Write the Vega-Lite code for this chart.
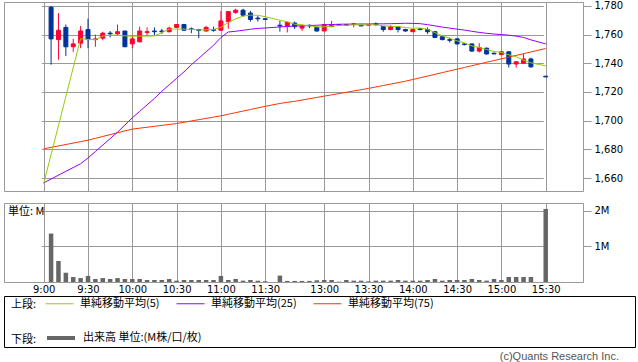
{
  "$schema": "https://vega.github.io/schema/vega-lite/v6.json",
  "background": "white",
  "padding": {"left": 3, "top": 0, "right": 0, "bottom": 0},
  "config": {
    "view": {"stroke": "#999999", "strokeWidth": 1},
    "axis": {"gridColor": "#999999", "gridWidth": 1, "gridOpacity": 1, "tickColor": "#999999", "labelFont": "DejaVu Sans", "labelFontSize": 10, "labelColor": "#000000", "domain": false, "labelOverlap": false, "labelFlush": false},
    "legend": {"padding": 0}
  },
  "resolve": {"scale": {"color": "independent"}},
  "datasets": {
    "bars": [
      {"m": 540, "ma5": 1656.2, "ma25": 1656.7, "ma75": 1680.4},
      {"m": 545, "o": 1779, "h": 1780, "l": 1739, "c": 1757, "v": 1360000},
      {"m": 550, "o": 1756.5, "h": 1775, "l": 1742.5, "c": 1763, "v": 590000},
      {"m": 555, "o": 1765, "h": 1767, "l": 1745, "c": 1751.5, "v": 260000},
      {"m": 560, "o": 1751.5, "h": 1757, "l": 1748, "c": 1753.5, "v": 140000},
      {"m": 565, "o": 1754, "h": 1766, "l": 1750.5, "c": 1762.5, "v": 110000, "ma5": 1757.2, "ma25": 1670, "ma75": 1685.4},
      {"m": 570, "o": 1763.5, "h": 1771, "l": 1750.5, "c": 1756.5, "v": 170000, "ma5": 1756.5, "ma25": 1674, "ma75": 1686.4},
      {"m": 575, "o": 1756.5, "h": 1760, "l": 1751.5, "c": 1757, "v": 85000, "ma5": 1756.5, "ma25": 1678.5, "ma75": 1687.7},
      {"m": 580, "o": 1757.5, "h": 1762, "l": 1756, "c": 1761, "v": 110000, "ma5": 1758.9, "ma25": 1683, "ma75": 1689},
      {"m": 585, "o": 1761, "h": 1762.5, "l": 1758, "c": 1760.5, "v": 85000, "ma5": 1759.6, "ma25": 1687.5, "ma75": 1690.3},
      {"m": 590, "o": 1760.5, "h": 1767, "l": 1759.5, "c": 1762, "v": 110000, "ma5": 1759.6, "ma25": 1692, "ma75": 1691.6},
      {"m": 595, "o": 1762.5, "h": 1762.5, "l": 1751.5, "c": 1751.5, "v": 85000, "ma5": 1759.1, "ma25": 1697, "ma75": 1692.9},
      {"m": 600, "o": 1753.5, "h": 1759.5, "l": 1750.5, "c": 1757, "v": 85000, "ma5": 1758.9, "ma25": 1702, "ma75": 1694.1},
      {"m": 605, "o": 1755, "h": 1765.5, "l": 1754.5, "c": 1762.5, "v": 85000, "ma5": 1758.9, "ma25": 1706.5, "ma75": 1694.8},
      {"m": 610, "o": 1761.5, "h": 1765, "l": 1759.5, "c": 1762, "v": 56000, "ma5": 1758.9, "ma25": 1711, "ma75": 1695.4},
      {"m": 615, "o": 1762.5, "h": 1765, "l": 1759.5, "c": 1762, "v": 56000, "ma5": 1759.1, "ma25": 1715.5, "ma75": 1696.1},
      {"m": 620, "o": 1762.5, "h": 1764, "l": 1760.5, "c": 1762, "v": 56000, "ma5": 1761.4, "ma25": 1720.5, "ma75": 1696.7},
      {"m": 625, "o": 1762, "h": 1765.5, "l": 1761.5, "c": 1764.5, "v": 85000, "ma5": 1763.8, "ma25": 1725, "ma75": 1697.4},
      {"m": 630, "o": 1765, "h": 1767, "l": 1764.5, "c": 1767, "v": 38000, "ma5": 1763.8, "ma25": 1729.5, "ma75": 1698},
      {"m": 635, "o": 1767, "h": 1767.5, "l": 1763, "c": 1763, "v": 56000, "ma5": 1763.8, "ma25": 1734, "ma75": 1698.9},
      {"m": 640, "o": 1764, "h": 1765, "l": 1761, "c": 1763.5, "v": 56000, "ma5": 1763.6, "ma25": 1739, "ma75": 1699.8},
      {"m": 645, "o": 1763.5, "h": 1764, "l": 1757.5, "c": 1763, "v": 56000, "ma5": 1763.3, "ma25": 1743.5, "ma75": 1700.7},
      {"m": 650, "o": 1762.5, "h": 1766, "l": 1762, "c": 1765, "v": 56000, "ma5": 1763.3, "ma25": 1748, "ma75": 1701.6},
      {"m": 655, "o": 1763.5, "h": 1765.5, "l": 1762, "c": 1763, "v": 56000, "ma5": 1763.6, "ma25": 1752.5, "ma75": 1702.5},
      {"m": 660, "o": 1763, "h": 1776.5, "l": 1763, "c": 1769.5, "v": 170000, "ma5": 1765, "ma25": 1758, "ma75": 1703.4},
      {"m": 665, "o": 1769, "h": 1776.5, "l": 1764, "c": 1776, "v": 56000, "ma5": 1768.5, "ma25": 1761.8, "ma75": 1704.5},
      {"m": 670, "o": 1775.5, "h": 1778, "l": 1774.5, "c": 1777, "v": 85000, "ma5": 1771, "ma25": 1762.3, "ma75": 1705.6},
      {"m": 675, "o": 1777, "h": 1778, "l": 1772.5, "c": 1773.5, "v": 38000, "ma5": 1772.8, "ma25": 1763, "ma75": 1706.7},
      {"m": 680, "o": 1775, "h": 1776.5, "l": 1769, "c": 1770.5, "v": 56000, "ma5": 1773.6, "ma25": 1763.7, "ma75": 1707.8},
      {"m": 685, "o": 1771.5, "h": 1773, "l": 1769, "c": 1771, "v": 38000, "ma5": 1773.4, "ma25": 1764.3, "ma75": 1708.9},
      {"m": 690, "o": 1771, "h": 1771, "l": 1770.5, "c": 1770.5, "v": 20000, "ma5": 1772.5, "ma25": 1764.6, "ma75": 1710},
      {"m": 750, "o": 1766.5, "h": 1769.5, "l": 1762, "c": 1766, "v": 180000, "ma5": 1770, "ma25": 1765.3, "ma75": 1712},
      {"m": 755, "o": 1766, "h": 1769, "l": 1761.5, "c": 1768.5, "v": 30000, "ma5": 1768.9, "ma25": 1765.6, "ma75": 1712.8},
      {"m": 760, "o": 1768, "h": 1769, "l": 1764, "c": 1765.5, "v": 30000, "ma5": 1767.2, "ma25": 1766, "ma75": 1713.5},
      {"m": 765, "o": 1764.5, "h": 1767, "l": 1762.5, "c": 1766, "v": 30000, "ma5": 1766.8, "ma25": 1766.1, "ma75": 1714.4},
      {"m": 770, "o": 1766.5, "h": 1767, "l": 1764.5, "c": 1766, "v": 30000, "ma5": 1766.1, "ma25": 1766.3, "ma75": 1715.3},
      {"m": 775, "o": 1765, "h": 1765.5, "l": 1762, "c": 1762.5, "v": 47000, "ma5": 1765.4, "ma25": 1766.5, "ma75": 1716.2},
      {"m": 780, "o": 1762.5, "h": 1767.5, "l": 1762.5, "c": 1767, "v": 56000, "ma5": 1765.4, "ma25": 1766.8, "ma75": 1717.1},
      {"m": 785, "o": 1765.5, "h": 1769.5, "l": 1765.5, "c": 1767, "v": 56000, "ma5": 1765.8, "ma25": 1767, "ma75": 1718},
      {"m": 790, "o": 1767, "h": 1767, "l": 1766, "c": 1766.5, "v": 10000, "ma5": 1766.3, "ma25": 1767.2, "ma75": 1718.9},
      {"m": 795, "o": 1767, "h": 1767, "l": 1766.5, "c": 1766.5, "v": 56000, "ma5": 1766.5, "ma25": 1767.3, "ma75": 1719.8},
      {"m": 800, "o": 1767, "h": 1768, "l": 1765, "c": 1767.5, "v": 38000, "ma5": 1766.8, "ma25": 1767.3, "ma75": 1720.7},
      {"m": 805, "o": 1766.5, "h": 1766.5, "l": 1766, "c": 1766, "v": 38000, "ma5": 1766.8, "ma25": 1767.4, "ma75": 1721.6},
      {"m": 810, "o": 1766.5, "h": 1767, "l": 1766.5, "c": 1767, "v": 20000, "ma5": 1766.8, "ma25": 1767.4, "ma75": 1722.5},
      {"m": 815, "o": 1767.5, "h": 1768.5, "l": 1766, "c": 1767, "v": 38000, "ma5": 1766.8, "ma25": 1767.5, "ma75": 1723.5},
      {"m": 820, "o": 1765.5, "h": 1765.5, "l": 1762, "c": 1763.5, "v": 38000, "ma5": 1766.1, "ma25": 1767.5, "ma75": 1724.5},
      {"m": 825, "o": 1763.5, "h": 1766.5, "l": 1763, "c": 1765.5, "v": 38000, "ma5": 1765.8, "ma25": 1767.6, "ma75": 1725.5},
      {"m": 830, "o": 1765.5, "h": 1766, "l": 1761.5, "c": 1763.5, "v": 56000, "ma5": 1765.6, "ma25": 1767.7, "ma75": 1726.5},
      {"m": 835, "o": 1763.5, "h": 1764, "l": 1762, "c": 1762.5, "v": 38000, "ma5": 1764.9, "ma25": 1767.9, "ma75": 1727.5},
      {"m": 840, "o": 1762, "h": 1764, "l": 1762, "c": 1763.5, "v": 38000, "ma5": 1764.4, "ma25": 1767.8, "ma75": 1728.7},
      {"m": 845, "o": 1764, "h": 1764.5, "l": 1763, "c": 1763.5, "v": 38000, "ma5": 1764.6, "ma25": 1767.6, "ma75": 1729.9},
      {"m": 850, "o": 1763.5, "h": 1765, "l": 1760.5, "c": 1762, "v": 56000, "ma5": 1763.7, "ma25": 1766.9, "ma75": 1731.1},
      {"m": 855, "o": 1762, "h": 1762.5, "l": 1757.5, "c": 1758, "v": 85000, "ma5": 1761.4, "ma25": 1766.1, "ma75": 1732.3},
      {"m": 860, "o": 1758.5, "h": 1759, "l": 1756, "c": 1756.5, "v": 38000, "ma5": 1759.1, "ma25": 1765.2, "ma75": 1733.5},
      {"m": 865, "o": 1756.5, "h": 1758, "l": 1754.5, "c": 1756, "v": 56000, "ma5": 1757.5, "ma25": 1764.5, "ma75": 1734.7},
      {"m": 870, "o": 1757, "h": 1757.5, "l": 1753, "c": 1753.5, "v": 56000, "ma5": 1755.6, "ma25": 1763.8, "ma75": 1735.9},
      {"m": 875, "o": 1753.5, "h": 1754, "l": 1752.5, "c": 1753, "v": 56000, "ma5": 1754.2, "ma25": 1763.1, "ma75": 1737.1},
      {"m": 880, "o": 1753.5, "h": 1753.5, "l": 1748, "c": 1748.5, "v": 85000, "ma5": 1752.1, "ma25": 1762.3, "ma75": 1738.3},
      {"m": 885, "o": 1748.5, "h": 1754, "l": 1747.5, "c": 1751, "v": 56000, "ma5": 1751, "ma25": 1761.5, "ma75": 1739.5},
      {"m": 890, "o": 1750.5, "h": 1751, "l": 1746, "c": 1746.5, "v": 38000, "ma5": 1749.6, "ma25": 1760.9, "ma75": 1740.7},
      {"m": 895, "o": 1747, "h": 1747.5, "l": 1746.5, "c": 1746.5, "v": 85000, "ma5": 1748.2, "ma25": 1760.4, "ma75": 1741.9},
      {"m": 900, "o": 1746, "h": 1748.5, "l": 1746, "c": 1748, "v": 56000, "ma5": 1747.5, "ma25": 1760, "ma75": 1743.1},
      {"m": 905, "o": 1748, "h": 1748.5, "l": 1737, "c": 1739.5, "v": 140000, "ma5": 1745.9, "ma25": 1759.6, "ma75": 1744.3},
      {"m": 910, "o": 1739.5, "h": 1741.5, "l": 1737, "c": 1741, "v": 140000, "ma5": 1744.5, "ma25": 1758.9, "ma75": 1745.5},
      {"m": 915, "o": 1740, "h": 1746.5, "l": 1739.5, "c": 1743, "v": 140000, "ma5": 1742.2, "ma25": 1758, "ma75": 1746.7},
      {"m": 920, "o": 1743, "h": 1744, "l": 1737, "c": 1737.5, "v": 140000, "ma5": 1740.3, "ma25": 1756.3, "ma75": 1747.9},
      {"m": 930, "o": 1731, "h": 1731, "l": 1731, "c": 1730.5, "v": 2050000, "ma5": 1738.2, "ma25": 1753.5, "ma75": 1750.3}
    ]
  },
  "spacing": -7,
  "vconcat": [
    {
      "spacing": 10,
      "vconcat": [
        {
          "width": 579,
          "height": 189,
          "data": {"name": "bars"},
          "encoding": {
            "x": {
              "field": "m", "type": "quantitative", "title": null,
              "scale": {"domain": [540, 690, 750, 930], "range": [39.7, 261.2, 275.9, 541.7], "nice": false, "zero": false, "padding": 0},
              "axis": {
                "orient": "bottom", "grid": true, "labels": false, "ticks": false, "title": null,
                "values": [540, 570, 600, 630, 660, 690, 780, 810, 840, 870, 900, 930]
              }
            }
          },
          "layer": [
            {
              "mark": {"type": "rule", "strokeWidth": 1},
              "encoding": {
                "y": {"field": "l", "type": "quantitative", "title": null, "scale": {"domain": [1651, 1782.7], "nice": false, "zero": false}, "axis": {"orient": "right", "values": [1660, 1680, 1700, 1720, 1740, 1760, 1780], "format": ",.0f", "grid": true, "tickSize": 8, "labelPadding": 3, "title": null}},
                "y2": {"field": "h"},
                "color": {"condition": {"test": "datum.c >= datum.o", "value": "#ff0033"}, "value": "#003399"}
              }
            },
            {
              "mark": {"type": "bar", "width": 4, "strokeWidth": 1},
              "encoding": {
                "y": {"field": "o", "type": "quantitative", "title": null, "axis": {"orient": "right", "values": [1660, 1680, 1700, 1720, 1740, 1760, 1780], "format": ",.0f", "grid": true, "tickSize": 8, "labelPadding": 3, "title": null}},
                "y2": {"field": "c"},
                "fill": {"condition": {"test": "datum.c >= datum.o", "value": "#ff0033"}, "value": "#003399"},
                "stroke": {"condition": {"test": "datum.c >= datum.o", "value": "#ff0033"}, "value": "#003399"}
              }
            },
            {
              "mark": {"type": "line", "color": "#ff3300", "strokeWidth": 1, "invalid": "filter"},
              "encoding": {"y": {"field": "ma75", "type": "quantitative", "title": null, "axis": {"orient": "right", "values": [1660, 1680, 1700, 1720, 1740, 1760, 1780], "format": ",.0f", "grid": true, "tickSize": 8, "labelPadding": 3, "title": null}}}
            },
            {
              "mark": {"type": "line", "color": "#9900ff", "strokeWidth": 1, "invalid": "filter"},
              "encoding": {"y": {"field": "ma25", "type": "quantitative", "title": null, "axis": {"orient": "right", "values": [1660, 1680, 1700, 1720, 1740, 1760, 1780], "format": ",.0f", "grid": true, "tickSize": 8, "labelPadding": 3, "title": null}}}
            },
            {
              "mark": {"type": "line", "color": "#99cc00", "strokeWidth": 1, "invalid": "filter"},
              "encoding": {"y": {"field": "ma5", "type": "quantitative", "title": null, "axis": {"orient": "right", "values": [1660, 1680, 1700, 1720, 1740, 1760, 1780], "format": ",.0f", "grid": true, "tickSize": 8, "labelPadding": 3, "title": null}}}
            }
          ]
        },
        {
          "width": 579,
          "height": 79,
          "title": {"text": "単位: M", "orient": "top", "anchor": "start", "offset": -14, "dx": 4, "fontSize": 11, "fontWeight": "normal", "font": "Noto Sans CJK JP", "color": "#000000"},
          "data": {"name": "bars"},
          "mark": {"type": "bar", "width": 4.5, "color": "#666666"},
          "encoding": {
            "x": {
              "field": "m", "type": "quantitative", "title": null,
              "scale": {"domain": [540, 690, 750, 930], "range": [39.7, 261.2, 275.9, 541.7], "nice": false, "zero": false, "padding": 0},
              "axis": {
                "orient": "bottom", "grid": true, "ticks": false, "title": null, "labelPadding": 2,
                "labelExpr": "floor(datum.value / 60) + ':' + (datum.value % 60 == 0 ? '00' : '30')",
                "values": [540, 570, 600, 630, 660, 690, 780, 810, 840, 870, 900, 930]
              }
            },
            "y": {
              "field": "v", "type": "quantitative", "title": null,
              "scale": {"domain": [0, 2217000], "nice": false},
              "axis": {"orient": "right", "values": [1000000, 2000000], "labelExpr": "(datum.value / 1000000) + 'M'", "grid": true, "tickSize": 8, "labelPadding": 3, "title": null}
            }
          }
        }
      ]
    },
    {
      "width": 631,
      "height": 51,
      "view": {"stroke": "#000000", "strokeWidth": 1},
      "title": {"text": "(c)Quants Research Inc.", "orient": "bottom", "anchor": "end", "offset": 4, "dx": -16, "fontSize": 11, "fontWeight": "normal", "font": "Liberation Sans", "color": "#555555"},
      "resolve": {"scale": {"color": "independent"}},
      "layer": [
        {
          "data": {"values": [{"series": "単純移動平均(5)"}, {"series": "単純移動平均(25)"}, {"series": "単純移動平均(75)"}]},
          "mark": {"type": "point", "opacity": 0},
          "encoding": {
            "color": {
              "field": "series", "type": "nominal",
              "scale": {"domain": ["単純移動平均(5)", "単純移動平均(25)", "単純移動平均(75)"], "range": ["#99cc00", "#9900ff", "#ff3300"]},
              "legend": {"title": "上段:", "orient": "none", "legendX": 7, "legendY": -7, "direction": "horizontal", "titleOrient": "left", "titleAnchor": "middle", "titleBaseline": "top", "titlePadding": 8, "symbolType": "stroke", "symbolSize": 784, "symbolStrokeWidth": 1, "symbolOpacity": 1, "labelOffset": 6, "columnPadding": 14, "labelFont": "Noto Sans CJK JP", "labelFontSize": 11, "labelColor": "#000000", "titleFont": "Noto Sans CJK JP", "titleFontSize": 11, "titleFontWeight": "normal", "titleColor": "#000000"}
            }
          }
        },
        {
          "data": {"values": [{"series": "出来高 単位:(M株/口/枚)"}]},
          "mark": {"type": "point", "opacity": 0},
          "encoding": {
            "color": {
              "field": "series", "type": "nominal",
              "scale": {"domain": ["出来高 単位:(M株/口/枚)"], "range": ["#666666"]},
              "legend": {"title": "下段:", "orient": "none", "legendX": 7, "legendY": 26, "direction": "horizontal", "titleOrient": "left", "titleAnchor": "middle", "titleBaseline": "top", "titlePadding": 8, "symbolType": "stroke", "symbolSize": 784, "symbolStrokeWidth": 4, "symbolOpacity": 1, "labelOffset": 6, "labelFont": "Noto Sans CJK JP", "labelFontSize": 11, "labelColor": "#000000", "titleFont": "Noto Sans CJK JP", "titleFontSize": 11, "titleFontWeight": "normal", "titleColor": "#000000"}
            }
          }
        }
      ]
    }
  ]
}
